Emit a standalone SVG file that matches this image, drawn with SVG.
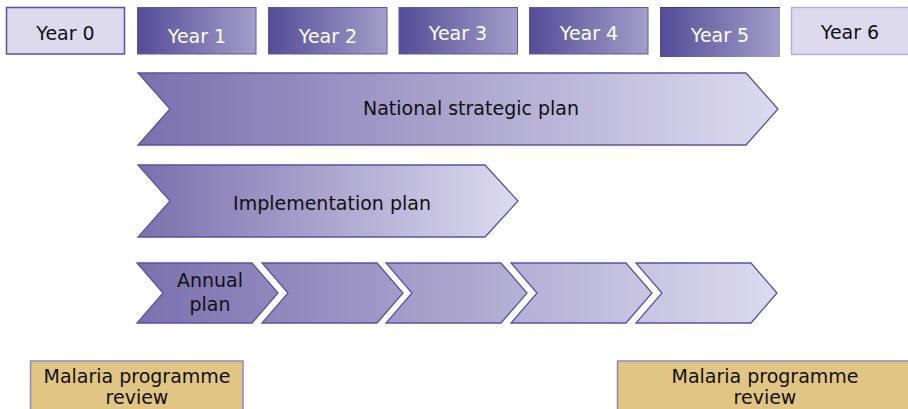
<svg xmlns="http://www.w3.org/2000/svg" width="908" height="409" viewBox="0 0 908 409">
<defs>
<linearGradient id="yearGrad" x1="0" y1="0" x2="1" y2="0">
<stop offset="0" stop-color="#544c97"/>
<stop offset="1" stop-color="#a49ec9"/>
</linearGradient>
<linearGradient id="nspGrad" gradientUnits="userSpaceOnUse" x1="138" y1="0" x2="778" y2="0">
<stop offset="0" stop-color="#7a70ae"/>
<stop offset="1" stop-color="#dddbef"/>
</linearGradient>
<linearGradient id="ipGrad" gradientUnits="userSpaceOnUse" x1="138" y1="0" x2="518" y2="0">
<stop offset="0" stop-color="#7a70ae"/>
<stop offset="1" stop-color="#dddbef"/>
</linearGradient>
<linearGradient id="apGrad" gradientUnits="userSpaceOnUse" x1="137" y1="0" x2="777" y2="0">
<stop offset="0" stop-color="#7a70ae"/>
<stop offset="1" stop-color="#dddbef"/>
</linearGradient>
</defs>
<style>
text { font-family: "DejaVu Sans", "Liberation Sans", sans-serif; text-anchor: middle; }
.yl { font-size: 19px; fill: #111; }
.yd { font-size: 19px; fill: #ffffff; }
.box-light { fill: #dcdaec; stroke: #5a52a0; stroke-width: 1.5; }
.box-light2 { fill: #dcdaec; stroke: #b2aedb; stroke-width: 1.5; }
.box-dark { fill: url(#yearGrad); stroke: #5e57a3; stroke-width: 1; }
.arrow { stroke: #5a52a0; stroke-width: 1.3; stroke-linejoin: miter; }
.lbl { font-size: 19px; fill: #111; }
.review { fill: #e1c585; stroke: #8c89c2; stroke-width: 1.5; }
.rt { font-size: 19px; fill: #111; }
</style>

<g id="year0"><rect class="box-light" x="6.5" y="7.5" width="118" height="46.5"/><text class="yl" x="65.5" y="40">Year 0</text></g>
<g id="year1"><rect class="box-dark" x="137.5" y="7.5" width="118.5" height="46.5"/><text class="yd" x="197" y="43">Year 1</text></g>
<g id="year2"><rect class="box-dark" x="268.5" y="7.5" width="118.5" height="46.5"/><text class="yd" x="328" y="43">Year 2</text></g>
<g id="year3"><rect class="box-dark" x="399" y="7.5" width="118.5" height="46.5"/><text class="yd" x="458" y="40">Year 3</text></g>
<g id="year4"><rect class="box-dark" x="529.5" y="7.5" width="118.5" height="46.5"/><text class="yd" x="589" y="40">Year 4</text></g>
<g id="year5"><rect x="660" y="7" width="120" height="50" fill="url(#yearGrad)"/><line x1="660" y1="7.5" x2="780" y2="7.5" stroke="#3f3a80" stroke-width="1"/><text class="yd" x="720" y="42">Year 5</text></g>
<g id="year6"><rect class="box-light2" x="791.5" y="7.5" width="118" height="47"/><text class="yl" x="850" y="38.5">Year 6</text></g>

<g id="national-strategic-plan">
<polygon class="arrow" fill="url(#nspGrad)" points="138,73 746,73 778,109 746,145 138,145 170,109"/>
<text class="lbl" x="471" y="115">National strategic plan</text>
</g>
<g id="implementation-plan">
<polygon class="arrow" fill="url(#ipGrad)" points="138,165 485,165 518,201 485,237 138,237 170,201"/>
<text class="lbl" x="332" y="210">Implementation plan</text>
</g>
<g id="annual-plan-1">
<polygon class="arrow" fill="url(#apGrad)" points="137,263 252,263 278,293 252,323 137,323 163,293"/>
<text class="lbl" x="210" y="287">Annual</text>
<text class="lbl" x="210" y="311">plan</text>
</g>
<g id="annual-plan-2"><polygon class="arrow" fill="url(#apGrad)" points="262,263 377,263 403,293 377,323 262,323 288,293"/></g>
<g id="annual-plan-3"><polygon class="arrow" fill="url(#apGrad)" points="386,263 501,263 527,293 501,323 386,323 412,293"/></g>
<g id="annual-plan-4"><polygon class="arrow" fill="url(#apGrad)" points="511,263 626,263 652,293 626,323 511,323 537,293"/></g>
<g id="annual-plan-5"><polygon class="arrow" fill="url(#apGrad)" points="636,263 751,263 777,293 751,323 636,323 662,293"/></g>

<g id="review-left">
<rect class="review" x="30.5" y="361" width="212.5" height="60"/>
<text class="rt" x="137" y="383">Malaria programme</text>
<text class="rt" x="137" y="403.5">review</text>
</g>
<g id="review-right">
<rect class="review" x="617.5" y="361" width="300" height="60"/>
<text class="rt" x="765" y="383">Malaria programme</text>
<text class="rt" x="765" y="403.5">review</text>
</g>
<g id="connectors"></g>
</svg>
